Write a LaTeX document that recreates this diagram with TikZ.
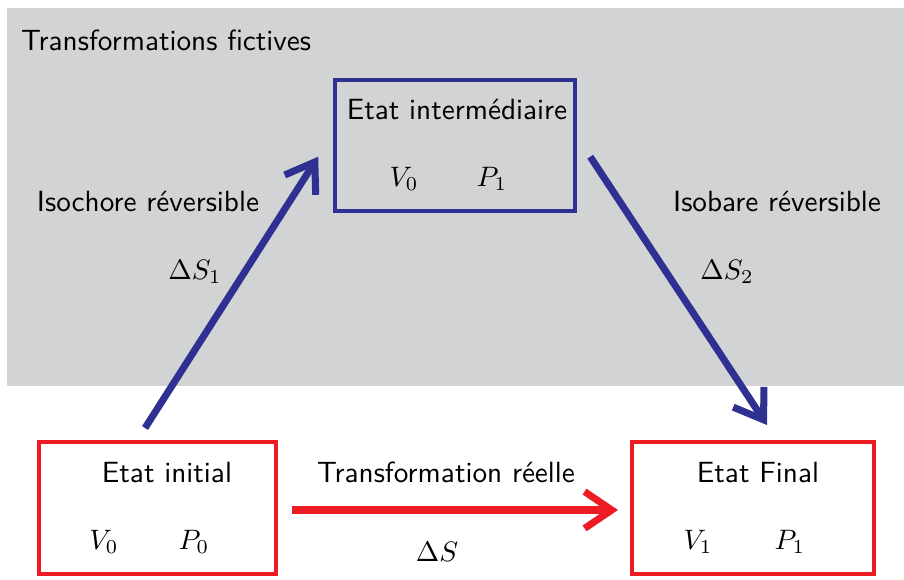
\documentclass[tikz,border=0pt]{standalone}
\usepackage{tikz}
\usetikzlibrary{arrows.meta}
\definecolor{etatbleu}{RGB}{46,49,146}
\definecolor{etatrouge}{RGB}{237,28,36}
\definecolor{fondgris}{RGB}{209,211,212}

\begin{document}
\begin{tikzpicture}[x=10mm, y=10mm,
		>={Straight Barb[length=3.4mm,width=4.6mm]},   %Pfeilspitzen
		font=\sffamily\fontsize{10.4}{12.5}\selectfont,
		etat/.style={draw=#1, line width=1.5pt, minimum width=30mm, minimum height=16.5mm, inner sep=0pt, outer sep=0pt},
		fleche/.style={->, #1, line width=2.5pt}]
		%Bildbereich
		\useasboundingbox (0,0) rectangle (11.3,7.2375);
		% fond gris
		\fill[fondgris] (0.0875,2.4125) rectangle (11.3,7.1375);
		\node[anchor=west] (titre) at (0.14,6.7375) {Transformations fictives};
		% Etats
		\node[etat=etatbleu, minimum height=16.4mm] (inter) at (5.6875,5.41875) {};
		\node[etat=etatrouge, minimum width=29.6mm] (init) at (1.96875,0.8875) {};
		\node[etat=etatrouge, minimum width=30.25mm] (fin) at (9.4125,0.8875) {};
		% contenu des etats
		\node (interT) at (5.7125,5.8625) {Etat intermédiaire};
		\node (interV) at (5.05,5.0) {$V_0$};
		\node (interP) at (6.15,5.0) {$P_1$};
		\node (initT) at (2.0875,1.3375) {Etat initial};
		\node (initV) at (1.3,0.4625) {$V_0$};
		\node (initP) at (2.425,0.4625) {$P_0$};
		\node (finT) at (9.475,1.3375) {Etat Final};
		\node (finV) at (8.725,0.4625) {$V_1$};
		\node (finP) at (9.875,0.4625) {$P_1$};
		% Pfeile
		\draw[fleche=etatbleu] ([shift={(-0.156,0.175)}]init.north) -- ([shift={(-0.21,-0.14)}]inter.west);
		\draw[fleche=etatbleu] ([shift={(0.19,-0.14)}]inter.east) -- ([shift={(0.175,0.2125)}]fin.north);
		\draw[fleche=etatrouge] ([shift={(0.2,-0.025)}]init.east) -- ([shift={(-0.175,-0.025)}]fin.west);
		%Beschriftung
		\node (isoch) at (1.85,4.7125) {Isochore réversible};
		\node (ds1) at (2.4375,3.84) {$\Delta S_1$};
		\node (isob) at (9.7125,4.7125) {Isobare réversible};
		\node (ds2) at (9.0875,3.84) {$\Delta S_2$};
		\node (reel) at (5.575,1.3375) {Transformation réelle};
		\node (ds) at (5.4625,0.3375) {$\Delta S$};
	\end{tikzpicture}
\end{document}
